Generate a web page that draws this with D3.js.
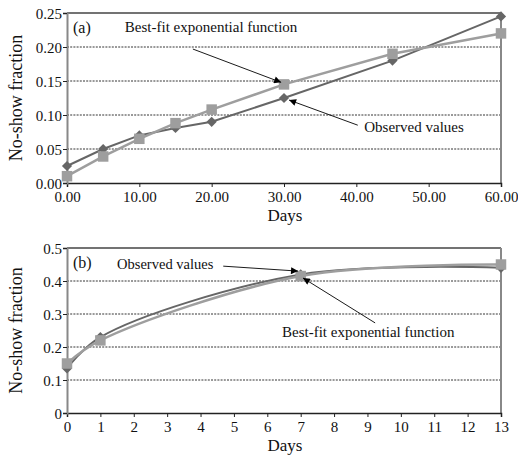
<!DOCTYPE html>
<html lang="en">
<head>
<meta charset="UTF-8">
<title>No-show fraction</title>
<script src="https://d3js.org/d3.v7.min.js"></script>
<style>
  body { margin: 0; background: #fff; }
  text { font-family: "Liberation Serif", "Times New Roman", serif; fill: #111; }
  .tick text { font-size: 15px; }
  .grid line { stroke: #000; stroke-width: 0.8; stroke-dasharray: 2,1.2; }
</style>
</head>
<body>
<div id="chart"></div>
<script>
// Panel (a) data
const daysA = [0, 5, 10, 15, 20, 30, 45, 60];
const observedA = [0.025, 0.05, 0.07, 0.081, 0.09, 0.125, 0.18, 0.245];
const fittedA = [0.01, 0.039, 0.065, 0.088, 0.108, 0.145, 0.19, 0.22];
const xTicksA = [0, 10, 20, 30, 40, 50, 60];
const yTicksA = [0, 0.05, 0.10, 0.15, 0.20, 0.25];

// Panel (b) data
const daysB = [0, 1, 7, 13];
const observedB = [0.135, 0.23, 0.42, 0.44];
const fittedB = [0.15, 0.22, 0.415, 0.45];
const xTicksB = d3.range(0, 14);
const yTicksB = [0, 0.1, 0.2, 0.3, 0.4, 0.5];

const svg = d3.select("#chart").append("svg")
    .attr("width", 518).attr("height", 456);

const defs = svg.append("defs");
defs.append("marker")
    .attr("id", "arrow")
    .attr("viewBox", "0 0 10 10")
    .attr("refX", 10).attr("refY", 5)
    .attr("markerWidth", 9).attr("markerHeight", 7)
    .attr("markerUnits", "userSpaceOnUse")
    .attr("orient", "auto")
    .append("path").attr("d", "M0,0L10,5L0,10Z").attr("fill", "#000");

const darkCol = "#666";
const lightCol = "#9e9e9e";

function drawPanel(p) {
    const x = d3.scaleLinear().domain(p.xDomain).range([67, 501]);
    const y = d3.scaleLinear().domain(p.yDomain).range([p.bottom, p.top]);
    const g = svg.append("g");

    // gridlines
    g.append("g").attr("class", "grid")
        .selectAll("line")
        .data(p.yTicks.slice(1, -1))
        .join("line")
        .attr("x1", x.range()[0]).attr("x2", x.range()[1])
        .attr("y1", d => y(d)).attr("y2", d => y(d));

    // frame top and right
    g.append("line")
        .attr("x1", x.range()[0]).attr("x2", x.range()[1])
        .attr("y1", p.top).attr("y2", p.top)
        .attr("stroke", "#444").attr("stroke-width", 1.3);
    g.append("line")
        .attr("x1", x.range()[1]).attr("x2", x.range()[1])
        .attr("y1", p.top).attr("y2", p.bottom)
        .attr("stroke", "#888").attr("stroke-width", 2);

    // axes
    const xAxis = g.append("g")
        .attr("transform", `translate(0,${p.bottom})`)
        .call(d3.axisBottom(x).tickValues(p.xTicks).tickFormat(p.xFormat).tickSize(4).tickPadding(4));
    xAxis.select(".domain").attr("stroke", "#222").attr("stroke-width", 1.5);
    xAxis.selectAll(".tick line").attr("stroke", "#222");

    const yAxis = g.append("g")
        .attr("transform", `translate(${x.range()[0]},0)`)
        .call(d3.axisLeft(y).tickValues(p.yTicks).tickFormat(p.yFormat).tickSize(4).tickPadding(1));
    yAxis.select(".domain").attr("stroke", "#888").attr("stroke-width", 2);
    yAxis.selectAll(".tick line").attr("stroke", "#222");
    yAxis.selectAll(".tick text").attr("dy", "0.36em");

    // axis titles
    g.append("text")
        .attr("transform", `translate(22,${(p.top + p.bottom) / 2}) rotate(-90)`)
        .attr("text-anchor", "middle")
        .style("font-size", "18px")
        .text("No-show fraction");
    g.append("text")
        .attr("x", 285).attr("y", p.bottom + 38)
        .attr("text-anchor", "middle")
        .style("font-size", "17px")
        .text("Days");

    // series
    const line = d3.line()
        .x(d => x(d[0])).y(d => y(d[1]))
        .curve(p.curve);

    const series = [
        {vals: p.observed, col: darkCol, shape: d3.symbolSquare, size: 52, rot: 45, w: 2},
        {vals: p.fitted, col: lightCol, shape: d3.symbolSquare, size: 110, rot: 0, w: 2.5}
    ];
    series.forEach(s => {
        const pts = p.days.map((d, i) => [d, s.vals[i]]);
        g.append("path").datum(pts)
            .attr("fill", "none").attr("stroke", s.col).attr("stroke-width", s.w)
            .attr("d", line);
        g.selectAll(null).data(pts).join("path")
            .attr("transform", d => `translate(${x(d[0])},${y(d[1])}) rotate(${s.rot})`)
            .attr("d", d3.symbol(s.shape, s.size))
            .attr("fill", s.col);
    });

    // panel label
    g.append("text")
        .attr("x", 73).attr("y", p.top + 20)
        .style("font-size", "16px")
        .text(p.label);

    // annotations
    p.notes.forEach(n => {
        g.append("text")
            .attr("x", x(n.tx)).attr("y", y(n.ty))
            .style("font-size", n.size + "px")
            .text(n.text);
        g.append("line")
            .attr("x1", x(n.from[0])).attr("y1", y(n.from[1]))
            .attr("x2", x(n.to[0])).attr("y2", y(n.to[1]))
            .attr("stroke", "#000").attr("stroke-width", 0.9)
            .attr("marker-end", "url(#arrow)");
    });
}

drawPanel({
    label: "(a)",
    top: 13, bottom: 183,
    xDomain: [0, 60], yDomain: [0, 0.25],
    xTicks: xTicksA, yTicks: yTicksA,
    xFormat: d3.format(".2f"), yFormat: d3.format(".2f"),
    days: daysA, observed: observedA, fitted: fittedA,
    curve: d3.curveLinear,
    notes: [
        {text: "Best-fit exponential function", size: 15, tx: 8.0, ty: 0.222, from: [17.4, 0.197], to: [29.6, 0.148]},
        {text: "Observed values", size: 15, tx: 41.1, ty: 0.075, from: [40.2, 0.085], to: [30.7, 0.122]}
    ]
});

drawPanel({
    label: "(b)",
    top: 248, bottom: 413,
    xDomain: [0, 13], yDomain: [0, 0.5],
    xTicks: xTicksB, yTicks: yTicksB,
    xFormat: d3.format("d"), yFormat: d => d === 0 ? "0" : d3.format(".1f")(d),
    days: daysB, observed: observedB, fitted: fittedB,
    curve: d3.curveCatmullRom,
    notes: [
        {text: "Observed values", size: 14.5, tx: 1.5, ty: 0.437, from: [4.68, 0.445], to: [6.92, 0.43]},
        {text: "Best-fit exponential function", size: 15, tx: 6.44, ty: 0.23, from: [9.23, 0.273], to: [7.07, 0.409]}
    ]
});
</script>
</body>
</html>
